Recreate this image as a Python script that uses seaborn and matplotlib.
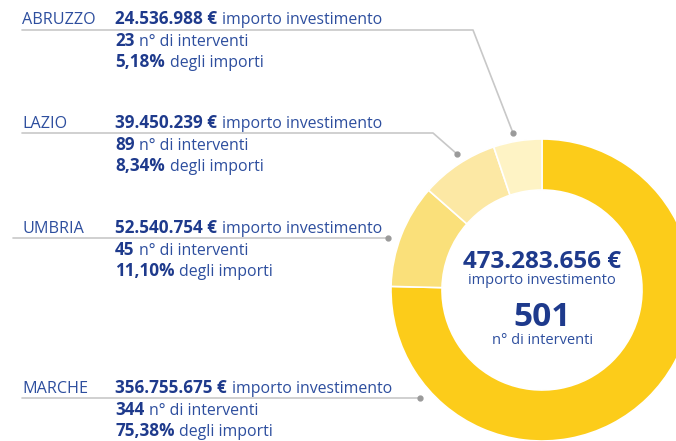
import matplotlib
matplotlib.use("Agg")
import matplotlib.pyplot as plt
import seaborn as sns

# Data
regioni = ["MARCHE", "UMBRIA", "LAZIO", "ABRUZZO"]
importi = ["356.755.675 €", "52.540.754 €", "39.450.239 €", "24.536.988 €"]
interventi = ["344", "45", "89", "23"]
percentuali = ["75,38%", "11,10%", "8,34%", "5,18%"]
quote = [75.38, 11.10, 8.34, 5.18]
totale_importo = "473.283.656 €"
totale_interventi = "501"

colori = ["#FCCC1A", "#FAE07A", "#FCE8A4", "#FEF3C5"]
blu = "#1E3A8C"
blu_chiaro = "#2D4E9E"
grigio = "#C8C8C8"

sns.set_theme(style="white")
plt.rcParams["font.family"] = ["Open Sans", "DejaVu Sans"]

W, H = 676, 441
fig = plt.figure(figsize=(W / 100, H / 100), dpi=100)
ax = fig.add_axes([0, 0, 1, 1])

# donut
cx, cy, r = 542, H - 290, 151
ax.pie(quote, colors=colori, startangle=90, counterclock=False,
       center=(cx, cy), radius=r,
       wedgeprops=dict(width=51, edgecolor="white", linewidth=1.2))
ax.set_xlim(0, W)
ax.set_ylim(0, H)
ax.set_aspect("equal")
ax.axis("off")

# center labels
ax.text(cx, H - 262, totale_importo, ha="center", va="center",
        fontsize=17.5, fontweight="bold", color=blu)
ax.text(cx, H - 281, "importo investimento", ha="center", va="center",
        fontsize=10.5, color=blu_chiaro)
ax.text(cx, H - 318, totale_interventi, ha="center", va="center",
        fontsize=24, fontweight="bold", color=blu)
ax.text(cx, H - 341, "n° di interventi", ha="center", va="center",
        fontsize=10.5, color=blu_chiaro)

# label blocks: text row y, leader line path (pixel coords from top)
righe_y = [388, 228, 123, 19]
leader = [
    [(22, 398), (420, 398)],
    [(13, 238), (388, 238)],
    [(22, 133), (433, 133), (457, 154)],
    [(22, 30), (473, 30), (513, 133)],
]


def riga(x, y, forte, testo):
    t = ax.text(x, H - y, forte, ha="left", va="baseline",
                fontsize=12.3, fontweight="bold", color=blu)
    ax.annotate(testo, xy=(1, 0), xycoords=t, xytext=(3.5, 0),
                textcoords="offset points", ha="left", va="bottom",
                fontsize=11.4, color=blu_chiaro)


for i, reg in enumerate(regioni):
    y = righe_y[i] + 5
    ax.text(22, H - y, reg, ha="left", va="baseline",
            fontsize=11.6, color=blu_chiaro)
    riga(115, y, importi[i], "importo investimento")
    riga(115, y + 22, interventi[i], "n° di interventi")
    riga(115, y + 43, percentuali[i], "degli importi")
    xs = [p[0] for p in leader[i]]
    ys = [H - p[1] for p in leader[i]]
    ax.plot(xs, ys, color=grigio, lw=1.2, zorder=3)
    ax.plot(xs[-1], ys[-1], "o", color="#9A9A9A", ms=3.5, zorder=4)

fig.savefig("out.png", dpi=100)
